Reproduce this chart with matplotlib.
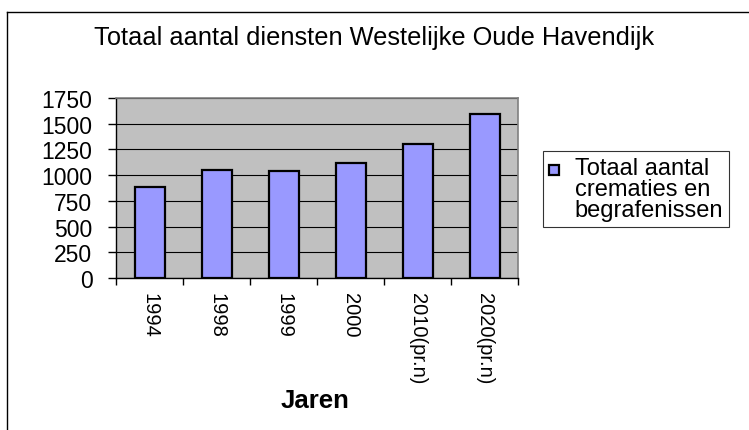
import matplotlib
matplotlib.use("Agg")
import matplotlib.pyplot as plt
from matplotlib.patches import Rectangle
from matplotlib.container import BarContainer
from matplotlib.legend_handler import HandlerPatch, update_from_first_child
from matplotlib.lines import Line2D

plt.rcParams["font.family"] = ["Liberation Sans", "DejaVu Sans"]

# data
years = ["1994", "1998", "1999", "2000", "2010(pr.n)", "2020(pr.n)"]
diensten = [880, 1050, 1040, 1120, 1300, 1600]
y_ticks = [0, 250, 500, 750, 1000, 1250, 1500, 1750]

series_label = "Totaal aantal\ncrematies en\nbegrafenissen"
title = "Totaal aantal diensten Westelijke Oude Havendijk"
x_title = "Jaren"

bar_color = "#9999FF"
plot_bg = "#C0C0C0"

fig = plt.figure(figsize=(7.49, 4.31), dpi=100)
ax = fig.add_axes([0.155, 0.353, 0.537, 0.417])
ax.set_facecolor(plot_bg)

x = list(range(len(years)))
bars = ax.bar(x, diensten, width=0.45, color=bar_color, edgecolor="black",
              linewidth=1.6, zorder=3, label=series_label)

ax.set_xlim(-0.5, len(years) - 0.5)
ax.set_ylim(0, 1750)
ax.set_yticks(y_ticks)
ax.yaxis.grid(True, color="black", linewidth=0.8, zorder=1)
ax.set_axisbelow(True)

# category labels at centres, tick marks at the boundaries
ax.set_xticks(x)
ax.set_xticklabels(years, rotation=270, fontsize=14.5, va="top", ha="center")
ax.tick_params(axis="x", which="major", length=0, pad=10)
ax.set_xticks([i - 0.5 for i in range(len(years) + 1)], minor=True)
ax.tick_params(axis="x", which="minor", length=5, width=1, color="black",
               direction="out")
ax.tick_params(axis="y", length=6, width=1, pad=11, labelsize=16.5,
               direction="out")

for side in ["top", "right"]:
    ax.spines[side].set_color("#808080")
    ax.spines[side].set_linewidth(1.2)
for side in ["left", "bottom"]:
    ax.spines[side].set_color("black")
    ax.spines[side].set_linewidth(1)

fig.text(0.5, 0.912, title, ha="center", va="center", fontsize=18.3)
fig.text(0.421, 0.069, x_title, ha="center", va="center", fontsize=18.5,
         fontweight="bold")


def first_line_square(legend, orig_handle, xdescent, ydescent, width, height,
                      fontsize):
    size = 0.42 * fontsize
    return Rectangle((-xdescent, -ydescent + 0.95 * fontsize), size, size)


leg = ax.legend(handles=[bars], loc="upper left",
                bbox_to_anchor=(0.725, 0.647),
                bbox_transform=fig.transFigure, fontsize=17, frameon=True,
                fancybox=False, shadow=False, borderpad=0.25,
                handlelength=0.5, handletextpad=0.6, borderaxespad=0,
                handler_map={BarContainer: HandlerPatch(
                    patch_func=first_line_square,
                    update_func=update_from_first_child)})
leg.get_frame().set_edgecolor("black")
leg.get_frame().set_linewidth(0.8)
for t in leg.get_texts():
    t.set_linespacing(0.95)

# outer chart border (runs off the right and bottom edge in the reference)
fig.add_artist(Line2D([0.0095, 1.0], [0.970, 0.970], color="black",
                      linewidth=1, transform=fig.transFigure))
fig.add_artist(Line2D([0.0095, 0.0095], [0.0, 0.970], color="black",
                      linewidth=1, transform=fig.transFigure))

fig.savefig("out.png", dpi=100)
